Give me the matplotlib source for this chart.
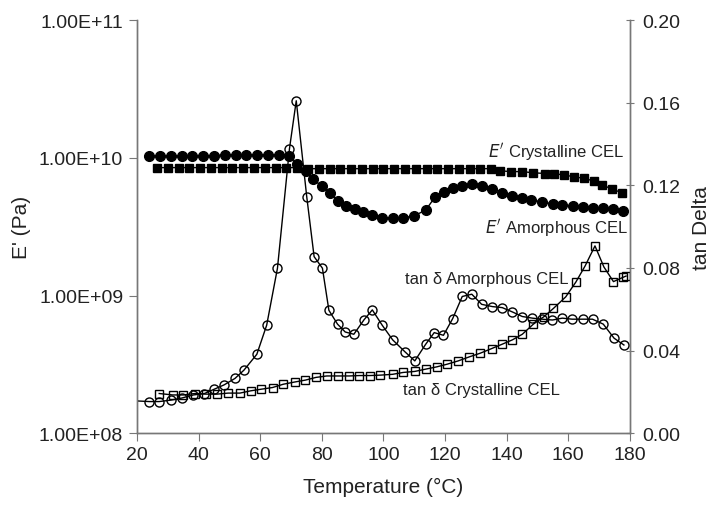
import matplotlib.pyplot as plt

plt.rcParams['font.family'] = ['Liberation Sans', 'DejaVu Sans']

# E' amorphous CEL (filled circles, left axis)
t_e_am = [24, 27.5, 31, 34.5, 38, 41.5, 45, 48.5, 52, 55.5, 59, 62.5, 66, 69.5,
          72, 74.8, 77, 80, 82.7, 85.3, 88, 90.8, 93.4, 96.2, 99.5, 103, 106.4,
          110, 113.8, 116.8, 119.7, 122.6, 125.5, 128.8, 132, 135.3, 138.5,
          141.8, 145, 148, 151.5, 155, 158, 161.5, 164.8, 168, 171.3, 174.5, 177.8]
e_am = [1.03e10, 1.03e10, 1.03e10, 1.03e10, 1.04e10, 1.04e10, 1.04e10, 1.05e10,
        1.05e10, 1.05e10, 1.05e10, 1.05e10, 1.05e10, 1.04e10,
        9.0e9, 8.0e9, 7.0e9, 6.26e9, 5.57e9, 4.87e9, 4.48e9, 4.26e9, 4.05e9,
        3.85e9, 3.67e9, 3.67e9, 3.67e9, 3.79e9, 4.19e9, 5.21e9, 5.66e9, 6.05e9,
        6.3e9, 6.47e9, 6.2e9, 5.96e9, 5.6e9, 5.3e9, 5.13e9, 4.95e9, 4.79e9,
        4.63e9, 4.56e9, 4.48e9, 4.4e9, 4.34e9, 4.3e9, 4.26e9, 4.12e9]

# E' crystalline CEL (filled squares, left axis)
t_e_cr = [26.5, 30, 33.5, 37, 40.5, 44, 47.5, 51, 54.5, 58, 61.5, 65, 68.5, 72,
          75.5, 79, 82.5, 86, 89.5, 93, 96.5, 100, 103.5, 107, 110.5, 114,
          117.5, 121, 124.5, 128, 131.5, 135, 138, 141.5, 145, 148.5, 152.5,
          155.5, 158.5, 162, 165, 168.3, 171, 174.3, 177.5]
e_cr = [8.5e9] * 14 + [8.35e9] * 18 + [8.05e9, 7.95e9, 7.95e9, 7.8e9, 7.7e9,
        7.7e9, 7.5e9, 7.3e9, 7.1e9, 6.8e9, 6.4e9, 5.9e9, 5.6e9]

# tan delta amorphous CEL (open circles, right axis)
t_tan_am = [20, 24, 27.2, 31, 34.5, 38.3, 41.9, 45.1, 48.3, 51.8, 54.7, 58.9, 62.1,
            65.6, 69.5, 71.7, 75.1, 77.5, 80.2, 82.3, 85.1, 87.6, 90.4, 93.7,
            96.4, 99.6, 103, 107, 110.2, 113.7, 116.5, 119.5, 122.5, 125.6,
            128.7, 131.9, 135.4, 138.6, 141.9, 145.1, 148.4, 151.6, 154.9,
            158.1, 161.3, 164.9, 167.9, 171.4, 174.9, 178.1]
tan_am = [0.0156, 0.0153, 0.0153, 0.016, 0.017, 0.0185, 0.0192, 0.0213, 0.0234,
          0.0265, 0.0305, 0.0382, 0.0523, 0.0799, 0.1378, 0.161, 0.1146, 0.0855,
          0.0799, 0.0595, 0.0528, 0.049, 0.0479, 0.0549, 0.0597, 0.0523, 0.0452,
          0.0394, 0.035, 0.043, 0.0487, 0.0474, 0.0555, 0.0662, 0.0673, 0.0624,
          0.0613, 0.0608, 0.0587, 0.0565, 0.0557, 0.0552, 0.0548, 0.0557,
          0.0552, 0.0552, 0.0552, 0.0528, 0.046, 0.0427]

# tan delta crystalline CEL (open squares, right axis)
t_tan_cr = [27.2, 31.6, 35, 38.8, 42.4, 46, 49.6, 53.4, 56.9, 60.4, 64, 67.5,
            71.3, 74.7, 78.1, 81.6, 85.3, 88.9, 92.2, 95.6, 99, 103, 106.4,
            110.2, 113.7, 117.3, 120.7, 124.3, 127.8, 131.4, 135.2, 138.6,
            141.9, 145.1, 148.7, 152.2, 155.2, 159.2, 162.5, 165.5, 168.7,
            171.6, 174.7, 177.7, 178.8]
tan_cr = [0.0192, 0.0185, 0.0185, 0.0192, 0.0189, 0.0189, 0.0194, 0.0194,
          0.0205, 0.0213, 0.0221, 0.0237, 0.0248, 0.0257, 0.027, 0.0277, 0.0277,
          0.0277, 0.0279, 0.0279, 0.0281, 0.0285, 0.0294, 0.0299, 0.031, 0.0321,
          0.0334, 0.035, 0.0369, 0.0387, 0.041, 0.0431, 0.0452, 0.0479, 0.0528,
          0.0565, 0.0604, 0.066, 0.0732, 0.081, 0.0907, 0.0805, 0.0734, 0.0754,
          0.0761]

fig = plt.figure(figsize=(7.1, 5.06), dpi=100)
ax = fig.add_axes([0.193, 0.142, 0.694, 0.816])
ax2 = ax.twinx()

grey = '#777777'
txt = '#222222'

ax.plot(t_e_am, e_am, '-o', color='black', lw=1, ms=7, mfc='black', mec='black')
ax.plot(t_e_cr, e_cr, '-s', color='black', lw=1, ms=6, mfc='black', mec='black')
ax.set_yscale('log')
ax.set_ylim(1e8, 1e11)
ax.set_xlim(20, 180)
ax.set_xticks(range(20, 181, 20))
ax.set_yticks([1e8, 1e9, 1e10, 1e11])
ax.set_yticklabels(['1.00E+08', '1.00E+09', '1.00E+10', '1.00E+11'])
ax.minorticks_off()

ax2.plot(t_tan_am, tan_am, '-o', color='black', lw=1, ms=6.5, mfc='none', mec='black',
         markevery=slice(1, None))
ax2.plot(t_tan_cr, tan_cr, '-s', color='black', lw=1, ms=6, mfc='none', mec='black')
ax2.set_ylim(0, 0.20)
ax2.set_yticks([0, 0.04, 0.08, 0.12, 0.16, 0.20])
ax2.set_yticklabels(['0.00', '0.04', '0.08', '0.12', '0.16', '0.20'])

for a in (ax, ax2):
    a.spines['top'].set_visible(False)
    for s in ('left', 'right', 'bottom'):
        a.spines[s].set_color(grey)
        a.spines[s].set_linewidth(1)
ax.tick_params(axis='both', colors=grey, labelcolor=txt, labelsize=14, length=6,
               direction='out')
ax.tick_params(axis='y', pad=4)
ax2.tick_params(axis='y', colors=grey, labelcolor=txt, labelsize=14, length=6,
                direction='inout', pad=6)

ax.set_xlabel('Temperature (°C)', fontsize=15, color=txt, labelpad=10)
ax.set_ylabel("E' (Pa)", fontsize=15, color=txt, labelpad=6)
ax2.set_ylabel('tan Delta', fontsize=15, color=txt, labelpad=8)

lab = dict(fontsize=12, color=txt, transform=ax2.transData)
ax2.text(134, 0.1365, r"$\mathit{E}'$ Crystalline CEL", ha='left', va='center', **lab)
ax2.text(133, 0.100, r"$\mathit{E}'$ Amorphous CEL", ha='left', va='center', **lab)
ax2.text(107, 0.075, 'tan δ Amorphous CEL', ha='left', va='center', **lab)
ax2.text(106.4, 0.0213, 'tan δ Crystalline CEL', ha='left', va='center', **lab)

fig.savefig('out.png', dpi=100)
